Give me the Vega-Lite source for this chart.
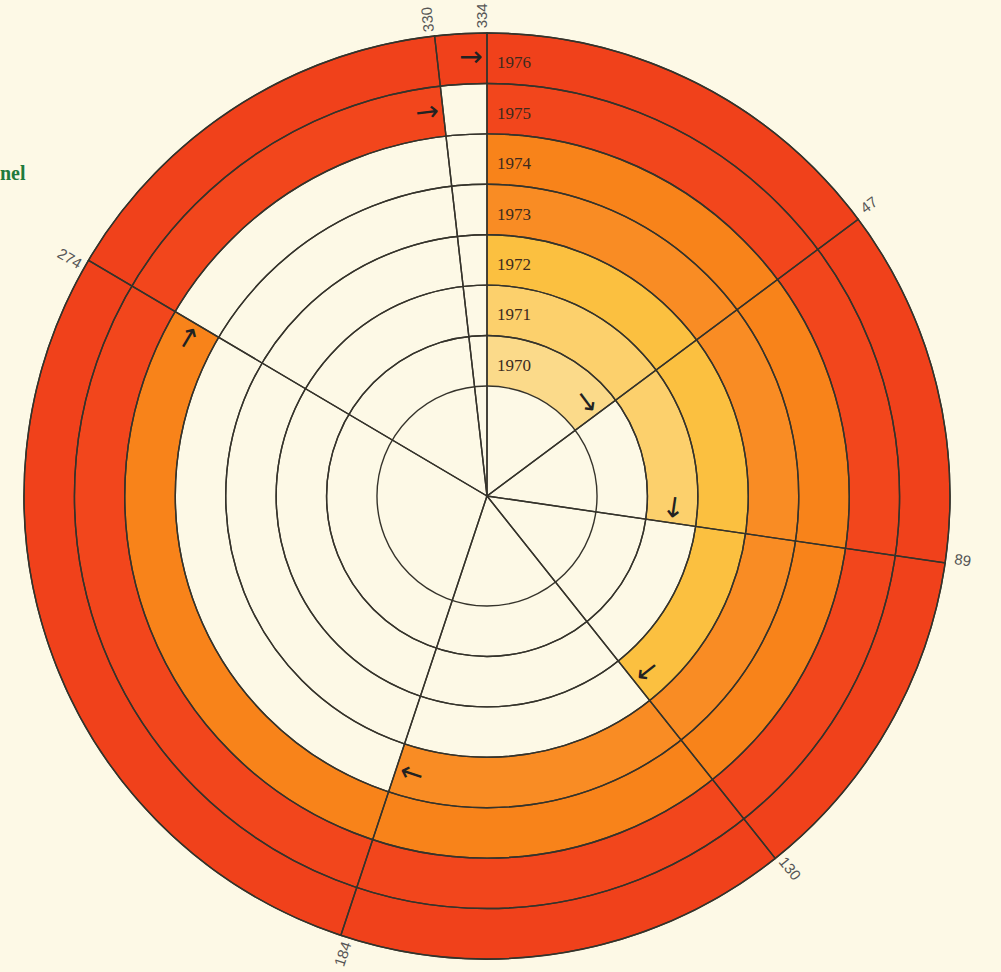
{
  "$schema": "https://vega.github.io/schema/vega-lite/v6.json",
  "width": 974,
  "height": 952,
  "autosize": {"type": "none"},
  "padding": {"left": 0, "top": 20, "right": 27, "bottom": 0},
  "background": "#FDF9E6",
  "title": {
    "text": "nel",
    "anchor": "start",
    "frame": "group",
    "orient": "top",
    "offset": 0,
    "dy": 197,
    "baseline": "alphabetic",
    "color": "#1F7A3C",
    "font": "Liberation Serif",
    "fontSize": 20,
    "fontWeight": "bold"
  },
  "datasets": {
    "years": [
      {"year": 1970, "start": 0, "end": 53.3},
      {"year": 1971, "start": 0, "end": 98.3},
      {"year": 1972, "start": 0, "end": 141.5},
      {"year": 1973, "start": 0, "end": 198.4},
      {"year": 1974, "start": 0, "end": 300.6},
      {"year": 1975, "start": 0, "end": 353.5},
      {"year": 1976, "start": 0, "end": 360}
    ],
    "sectors": [
      {"label": "334", "from": 0, "to": 53.3},
      {"label": "47", "from": 53.3, "to": 98.3},
      {"label": "89", "from": 98.3, "to": 141.5},
      {"label": "130", "from": 141.5, "to": 198.4},
      {"label": "184", "from": 198.4, "to": 300.6},
      {"label": "274", "from": 300.6, "to": 353.5},
      {"label": "330", "from": 353.5, "to": 360}
    ]
  },
  "layer": [
    {
      "data": {"name": "years"},
      "transform": [{"calculate": "datum.year + 1", "as": "outer"}],
      "mark": {"type": "arc", "strokeWidth": 0},
      "encoding": {
        "theta": {"field": "start", "type": "quantitative", "stack": null, "scale": {"domain": [0, 360], "range": [0, 6.283185307179586]}},
        "theta2": {"field": "end"},
        "radius": {"field": "year", "type": "quantitative", "scale": {"type": "linear", "domain": [1969, 1970, 1977], "range": [0, 110, 463], "zero": false, "nice": false}},
        "radius2": {"field": "outer"},
        "color": {
          "field": "year", "type": "ordinal", "legend": null,
          "scale": {"domain": [1970, 1971, 1972, 1973, 1974, 1975, 1976],
                    "range": ["#FBDA8A", "#FCD06C", "#FBC040", "#F98C24", "#F8831A", "#F2461C", "#F0411B"]}
        }
      }
    },
    {
      "data": {"name": "years"},
      "transform": [{"calculate": "datum.year + 1", "as": "outer"}, {"calculate": "360", "as": "full"}],
      "mark": {"type": "arc", "fill": "#ffffff", "fillOpacity": 0, "stroke": "#35332B", "strokeWidth": 1.4},
      "encoding": {
        "theta": {"field": "start", "type": "quantitative", "stack": null},
        "theta2": {"field": "full"},
        "radius": {"field": "year", "type": "quantitative"},
        "radius2": {"field": "outer"}
      }
    },
    {
      "data": {"name": "sectors"},
      "mark": {"type": "arc", "fill": "#ffffff", "fillOpacity": 0, "stroke": "#35332B", "strokeWidth": 1.4},
      "encoding": {
        "theta": {"field": "from", "type": "quantitative", "stack": null},
        "theta2": {"field": "to"},
        "radius": {"datum": 1977, "type": "quantitative"},
        "radius2": {"datum": 1969}
      }
    },
    {
      "data": {"name": "years"},
      "transform": [{"calculate": "datum.year + 0.5", "as": "mid"}],
      "mark": {"type": "text", "align": "left", "baseline": "middle", "dx": 10, "dy": 5, "font": "Liberation Serif", "fontSize": 17, "color": "#3C2A1E"},
      "encoding": {
        "theta": {"field": "start", "type": "quantitative", "stack": null},
        "radius": {"field": "mid", "type": "quantitative"},
        "text": {"field": "year", "type": "nominal"}
      }
    },
    {
      "data": {"name": "years"},
      "transform": [{"calculate": "datum.year + 0.5", "as": "mid"}],
      "mark": {"type": "text", "text": "→", "align": "center", "baseline": "middle", "dx": -16, "font": "DejaVu Sans", "fontSize": 28, "color": "#222222"},
      "encoding": {
        "theta": {"field": "end", "type": "quantitative", "stack": null},
        "radius": {"field": "mid", "type": "quantitative"},
        "angle": {"field": "end", "type": "quantitative", "scale": {"domain": [-360, 360], "range": [-360, 360]}}
      }
    },
    {
      "data": {"name": "sectors"},
      "transform": [
        {"calculate": "datum.from - 90 > 90 && datum.from - 90 < 250 ? datum.from - 270 : datum.from - 90", "as": "la"},
        {"filter": "!(datum.from - 90 > 90 && datum.from - 90 < 250)"},
        {"calculate": "1977.34", "as": "lr"}
      ],
      "mark": {"type": "text", "align": "center", "baseline": "middle", "dy": -5, "font": "Liberation Sans", "fontSize": 15, "color": "#555555"},
      "encoding": {
        "theta": {"field": "from", "type": "quantitative", "stack": null},
        "radius": {"field": "lr", "type": "quantitative"},
        "angle": {"field": "la", "type": "quantitative"},
        "text": {"field": "label", "type": "nominal"}
      }
    },
    {
      "data": {"name": "sectors"},
      "transform": [
        {"calculate": "datum.from - 90 > 90 && datum.from - 90 < 250 ? datum.from - 270 : datum.from - 90", "as": "la"},
        {"filter": "datum.from - 90 > 90 && datum.from - 90 < 250"},
        {"calculate": "1977.34", "as": "lr"}
      ],
      "mark": {"type": "text", "align": "center", "baseline": "middle", "dy": 8, "font": "Liberation Sans", "fontSize": 15, "color": "#555555"},
      "encoding": {
        "theta": {"field": "from", "type": "quantitative", "stack": null},
        "radius": {"field": "lr", "type": "quantitative"},
        "angle": {"field": "la", "type": "quantitative"},
        "text": {"field": "label", "type": "nominal"}
      }
    }
  ],
  "config": {"view": {"stroke": null}}
}
